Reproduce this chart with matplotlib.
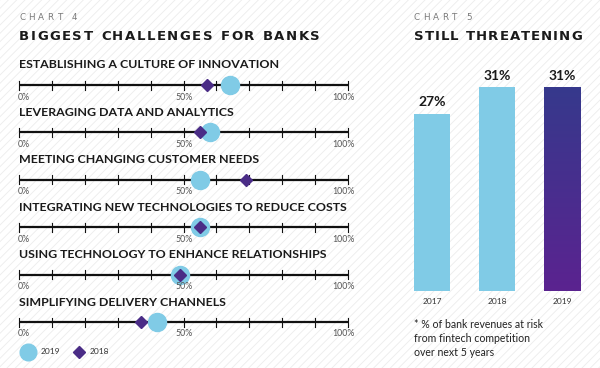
import numpy as np
import matplotlib.pyplot as plt
from matplotlib.patches import Rectangle
from matplotlib.colors import LinearSegmentedColormap
from matplotlib.font_manager import FontProperties

# Chart 4 data (share of respondents, %)
challenges = [
    "ESTABLISHING A CULTURE OF INNOVATION",
    "LEVERAGING DATA AND ANALYTICS",
    "MEETING CHANGING CUSTOMER NEEDS",
    "INTEGRATING NEW TECHNOLOGIES TO REDUCE COSTS",
    "USING TECHNOLOGY TO ENHANCE RELATIONSHIPS",
    "SIMPLIFYING DELIVERY CHANNELS",
]
vals_2019 = [64, 58, 55, 55, 49, 42]
vals_2018 = [57, 55, 69, 55, 49, 37]

# Chart 5 data
years = ["2017", "2018", "2019"]
at_risk = [27, 31, 31]

LIGHT = "#80cbe6"
PURPLE = "#4a2c86"
W, H = 600, 368

plt.rcParams['font.family'] = ['Lato', 'DejaVu Sans']
plt.rcParams['hatch.color'] = '#ececec'
plt.rcParams['hatch.linewidth'] = 0.6

fig = plt.figure(figsize=(6, 3.68), dpi=100)
renderer = fig.canvas.get_renderer()


def box(x0, y0, x1, y1):
    # pixel box (top-left origin) -> figure fraction [l, b, w, h]
    return [x0 / W, 1 - y1 / H, (x1 - x0) / W, (y1 - y0) / H]


def fy(y):
    return 1 - y / H


def tracked(x0, x1, y, s, **kw):
    # draw s letter by letter so that it spans pixels x0..x1
    fp = FontProperties(family=kw.get("family", "DejaVu Sans"),
                        weight=kw.get("fontweight", "normal"),
                        size=kw.get("fontsize", 10))
    widths = []
    for ch in s:
        if ch == " ":
            w, _, _ = renderer.get_text_width_height_descent("a", fp, False)
            widths.append(w * 0.6)
        else:
            w, _, _ = renderer.get_text_width_height_descent(ch, fp, False)
            widths.append(w)
    gap = ((x1 - x0) - sum(widths)) / (len(s) - 1)
    x = x0
    for ch, w in zip(s, widths):
        if ch != " ":
            fig.text(x / W, fy(y), ch, va="center", ha="left", **kw)
        x += w + gap


# faint diagonal background stripes
bg = fig.add_axes([0, 0, 1, 1], zorder=-5)
bg.add_patch(Rectangle((0, 0), 1, 1, facecolor="white", edgecolor="#ececec",
                       hatch="////", lw=0, transform=bg.transAxes))
bg.axis("off")

head_kw = dict(fontsize=9.5, fontweight="bold", color="#1a1a1a",
               family="DejaVu Sans")
small_kw = dict(fontsize=6.3, color="#7a7a7a", family="DejaVu Sans")

# ---- Chart 4 ----
tracked(19, 77, 18, "CHART 4", **small_kw)
tracked(19, 320, 37, "BIGGEST CHALLENGES FOR BANKS", **head_kw)

row0, step = 85, 47.4
for i, name in enumerate(challenges):
    yl = row0 + i * step
    ax = fig.add_axes(box(19, yl - 10, 348, yl + 10))
    ax.set_xlim(0, 100)
    ax.set_ylim(-1, 1)
    ax.axis("off")
    ax.plot([0, 100], [0, 0], color="#111111", lw=1.6, zorder=1,
            solid_capstyle="butt", clip_on=False)
    for t in range(0, 101, 10):
        ax.plot([t, t], [-0.45, 0.45], color="#111111", lw=0.8, zorder=1,
                clip_on=False)
    ax.plot(vals_2019[i], 0, "o", ms=13, color=LIGHT, mec=LIGHT, zorder=3,
            clip_on=False)
    ax.plot(vals_2018[i], 0, "D", ms=6.5, color=PURPLE, mec=PURPLE, zorder=4,
            clip_on=False)
    fig.text(19 / W, fy(yl - 20), name, fontsize=8.9, fontweight="bold",
             color="#1a1a1a", va="center")
    for x, lab, ha in [(18, "0%", "left"), (184, "50%", "center"),
                       (355, "100%", "right")]:
        fig.text(x / W, fy(yl + 12), lab, fontsize=6.3, color="#555555",
                 ha=ha, va="center")

# legend
lg = fig.add_axes(box(19, 340, 120, 364))
lg.set_xlim(19, 120)
lg.set_ylim(0, 1)
lg.axis("off")
lg.plot(28, 0.5, "o", ms=12, color=LIGHT, clip_on=False)
lg.plot(79, 0.5, "D", ms=6, color=PURPLE, clip_on=False)
fig.text(41 / W, fy(352), "2019", fontsize=6, color="#333333", va="center")
fig.text(90 / W, fy(352), "2018", fontsize=6, color="#333333", va="center")

# ---- Chart 5 ----
tracked(414, 472, 18, "CHART 5", **small_kw)
tracked(414, 582, 37, "STILL THREATENING", **head_kw)

bx = fig.add_axes(box(399.5, 61, 594.5, 291))
x = np.arange(len(years))
bars = bx.bar(x, at_risk, width=0.555, color=[LIGHT, LIGHT, "none"])

# gradient fill for 2019
b = bars[2]
grad = np.linspace(0, 1, 256).reshape(-1, 1)
cmap = LinearSegmentedColormap.from_list("g", ["#5b2390", "#36398c"])
x0, w, h = b.get_x(), b.get_width(), b.get_height()
im = bx.imshow(grad, cmap=cmap, aspect="auto", origin="lower",
               extent=[x0, x0 + w, 0, h], zorder=2)
im.set_clip_path(b)
bx.set_xlim(-0.5, 2.5)
bx.set_ylim(0, 35)
bx.axis("off")

for xi, v in zip(x, at_risk):
    bx.annotate(f"{v}%", (xi, v), xytext=(0, 4), textcoords="offset points",
                ha="center", va="bottom", fontsize=10, fontweight="bold",
                color="#1a1a1a")
for xi, yr in zip(x, years):
    bx.annotate(yr, (xi, 0), xytext=(0, -5), textcoords="offset points",
                ha="center", va="top", fontsize=6, color="#333333",
                annotation_clip=False)

fig.text(414 / W, fy(338.5),
         "* % of bank revenues at risk\nfrom fintech competition\nover next 5 years",
         fontsize=7.6, color="#222222", va="center", linespacing=1.3)

fig.savefig("out.png", dpi=100)
